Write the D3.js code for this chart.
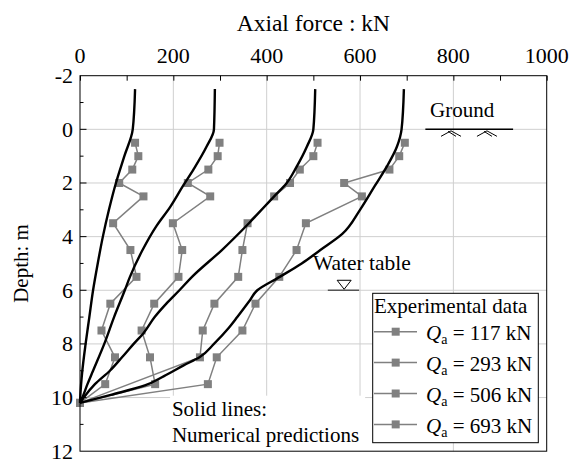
<!DOCTYPE html>
<html>
<head>
<meta charset="utf-8">
<script src="https://cdn.jsdelivr.net/npm/d3@7"></script>
<style>
body { margin: 0; background: #fff; }
svg text { font-family: "Liberation Serif", "Times New Roman", serif; fill: #000; }
</style>
</head>
<body>
<svg id="chart" width="571" height="461"></svg>
<script>
// experimental readings (depth in m, axial force in kN)
var expDepth = [0.5, 1, 1.5, 2, 2.5, 3.5, 4.5, 5.5, 6.5, 7.5, 8.5, 9.5, 10.2];
var exp117 = [118, 125, 112, 84, 136, 71, 108, 121, 65, 46, 75, 54, 0];
var exp293 = [299, 295, 275, 231, 279, 199, 219, 211, 159, 132, 150, 161, 0];
var exp506 = [509, 500, 471, 450, 416, 359, 348, 339, 288, 263, 257, null, 0];
var exp693 = [696, 684, 663, 566, 604, 484, 464, 427, 376, 348, 293, 274, 0];

// numerical predictions
var num117Depth = [-1.5, 0, 1, 2, 3, 4, 5, 6, 7, 8, 9, 10, 10.2];
var num117 = [118, 113, 95, 77, 62, 49, 38, 28, 20, 12, 5, 0.5, 0];
var num293Depth = [-1.5, 0, 0.65, 1.5, 2.1, 2.9, 3.6, 4.5, 5.5, 6, 7, 8, 9, 9.5, 10, 10.2];
var num293 = [289, 287, 271, 243, 221, 193, 164, 134, 107, 96, 73, 52, 28, 16, 5, 0];
var num506Depth = [-1.5, 0, 0.65, 1.4, 2, 2.5, 3.5, 4.5, 5.5, 6, 6.5, 7, 7.6, 8, 8.5, 9, 9.5, 10, 10.2];
var num506 = [504, 500, 486, 464, 443, 416, 362, 304, 240, 213, 185, 160, 136, 115, 90, 64, 32, 8, 0];
var num693Depth = [-1.5, 0, 0.65, 1.4, 2.1, 3, 3.9, 4.5, 5, 5.5, 6, 6.4, 7, 7.4, 8, 8.5, 8.8, 9.2, 9.55, 9.9, 10.2];
var num693 = [694, 689, 679, 657, 632, 600, 562, 515, 475, 428, 380, 363, 337, 319, 287, 256, 222, 180, 139, 66, 0];

var loads = ["117", "293", "506", "693"];
var xTicks = [0, 200, 400, 600, 800, 1000];
var yTicks = [-2, 0, 2, 4, 6, 8, 10, 12];

function drawChart()
{
var expSeries = [exp117, exp293, exp506, exp693];
var numSeries = [[num117Depth, num117], [num293Depth, num293], [num506Depth, num506], [num693Depth, num693]];

var svg = d3.select("#chart");
var left = 80, ptop = 75.7, w = 466.7, h = 375.5;

var x = d3.scaleLinear().domain([0, 1000]).range([left, left + w]);
var y = d3.scaleLinear().domain([-2, 12]).range([ptop, ptop + h]);

var grey = "#808080";

// grid
svg.append("g").selectAll("line").data(xTicks.slice(1, -1)).enter().append("line")
    .attr("x1", function(d){ return x(d); }).attr("x2", function(d){ return x(d); })
    .attr("y1", ptop).attr("y2", ptop + h)
    .attr("stroke", "#cfcfcf").attr("stroke-width", 1);
svg.append("g").selectAll("line").data(yTicks.slice(1, -1)).enter().append("line")
    .attr("y1", function(d){ return y(d); }).attr("y2", function(d){ return y(d); })
    .attr("x1", left).attr("x2", left + w)
    .attr("stroke", "#cfcfcf").attr("stroke-width", 1);

// experimental lines + squares
var expLine = d3.line()
    .x(function(d){ return x(d[1]); })
    .y(function(d){ return y(d[0]); });

expSeries.forEach(function(vals){
    var pts = expDepth.map(function(dp, i){ return [dp, vals[i]]; })
        .filter(function(p){ return p[1] !== null; });
    svg.append("path").datum(pts)
        .attr("d", expLine)
        .attr("fill", "none").attr("stroke", grey).attr("stroke-width", 1.5);
    svg.append("g").selectAll("rect").data(pts).enter().append("rect")
        .attr("x", function(d){ return x(d[1]) - 4; })
        .attr("y", function(d){ return y(d[0]) - 4; })
        .attr("width", 8).attr("height", 8)
        .attr("fill", grey);
});

// numerical lines
var numLine = d3.line()
    .x(function(d){ return x(d[1]); })
    .y(function(d){ return y(d[0]); })
    .curve(d3.curveMonotoneY);

numSeries.forEach(function(s){
    var pts = s[0].map(function(dp, i){ return [dp, s[1][i]]; });
    svg.append("path").datum(pts)
        .attr("d", numLine)
        .attr("fill", "none").attr("stroke", "#000").attr("stroke-width", 2.4)
        .attr("stroke-linejoin", "round");
});

// ground
var gy = y(0);
svg.append("line").attr("x1", x(740)).attr("x2", x(928)).attr("y1", gy).attr("y2", gy)
    .attr("stroke", "#000").attr("stroke-width", 1.5);
[795, 872].forEach(function(v){
    var cx = x(v);
    svg.append("path")
        .attr("d", "M" + (cx - 10) + "," + (gy + 7) + "L" + cx + "," + (gy + 1.5) + "L" + (cx + 10) + "," + (gy + 7)
            + "M" + (cx - 3) + "," + (gy + 2) + "L" + (cx + 5) + "," + (gy + 7))
        .attr("fill", "none").attr("stroke", "#000").attr("stroke-width", 1);
});
svg.append("text").attr("x", x(750)).attr("y", y(-0.45)).attr("font-size", 21).text("Ground");

// water table
var wy = y(6);
svg.append("line").attr("x1", x(531)).attr("x2", x(598)).attr("y1", wy).attr("y2", wy)
    .attr("stroke", "#555").attr("stroke-width", 1.5);
svg.append("path")
    .attr("d", "M" + (x(566) - 7) + "," + (wy - 10) + "L" + (x(566) + 7) + "," + (wy - 10) + "L" + x(566) + "," + (wy - 1) + "Z")
    .attr("fill", "#fff").attr("stroke", "#000").attr("stroke-width", 1);
svg.append("text").attr("x", x(499)).attr("y", y(5.25)).attr("font-size", 21.5).text("Water table");

// note box
svg.append("rect").attr("x", x(193)).attr("y", y(9.93)).attr("width", x(611) - x(193)).attr("height", ptop + h - y(9.93))
    .attr("fill", "#fff");
svg.append("text").attr("x", x(197)).attr("y", y(10.7)).attr("font-size", 21).text("Solid lines:");
svg.append("text").attr("x", x(197)).attr("y", y(11.65)).attr("font-size", 21).text("Numerical predictions");

// legend
var lg = svg.append("g");
lg.append("rect").attr("x", 372.7).attr("y", 293.3).attr("width", 165.6).attr("height", 149.4)
    .attr("fill", "#fff").attr("stroke", "#000").attr("stroke-width", 1);
lg.append("text").attr("x", 374).attr("y", 313.3).attr("font-size", 21).text("Experimental data");
loads.forEach(function(q, i){
    var by = 340 + i * 30.9;
    var my = by - 8.3;
    lg.append("line").attr("x1", 374).attr("x2", 417).attr("y1", my).attr("y2", my)
        .attr("stroke", grey).attr("stroke-width", 1.5);
    lg.append("rect").attr("x", 391.7).attr("y", my - 4).attr("width", 8).attr("height", 8).attr("fill", grey);
    var t = lg.append("text").attr("x", 426).attr("y", by).attr("font-size", 21);
    t.append("tspan").attr("font-style", "italic").text("Q");
    t.append("tspan").attr("font-size", 14).attr("dy", 4).text("a");
    t.append("tspan").attr("dy", -4).text(" = " + q + " kN");
});

// frame + ticks
svg.append("rect").attr("x", left).attr("y", ptop).attr("width", w).attr("height", h)
    .attr("fill", "none").attr("stroke", "#000").attr("stroke-width", 1);

var topAxis = d3.axisTop(x).tickValues(d3.range(0, 1001, 100)).tickSize(-5).tickFormat("");
svg.append("g").attr("transform", "translate(0," + ptop + ")").call(topAxis)
    .call(function(g){ g.select(".domain").remove(); g.selectAll("line").attr("stroke", "#000"); });
svg.append("g").selectAll("text").data(xTicks).enter().append("text")
    .attr("x", function(d){ return x(d); }).attr("y", ptop - 13)
    .attr("text-anchor", "middle").attr("font-size", 22).text(function(d){ return d; });

svg.append("g").selectAll("line").data(d3.range(-1, 12, 1)).enter().append("line")
    .attr("x1", left).attr("x2", function(d){ return left + (d % 2 === 0 ? 6.5 : 3.5); })
    .attr("y1", function(d){ return y(d); }).attr("y2", function(d){ return y(d); })
    .attr("stroke", "#000").attr("stroke-width", 1);
svg.append("g").selectAll("text").data(yTicks).enter().append("text")
    .attr("x", left - 7).attr("y", function(d){ return y(d) + 7.5; })
    .attr("text-anchor", "end").attr("font-size", 22).text(function(d){ return d; });

svg.append("text").attr("x", x(500)).attr("y", 31).attr("text-anchor", "middle")
    .attr("font-size", 23.5).text("Axial force : kN");
svg.append("text").attr("transform", "translate(28," + (ptop + h / 2) + ") rotate(-90)")
    .attr("text-anchor", "middle").attr("font-size", 21).text("Depth: m");
}

drawChart();
</script>
</body>
</html>
